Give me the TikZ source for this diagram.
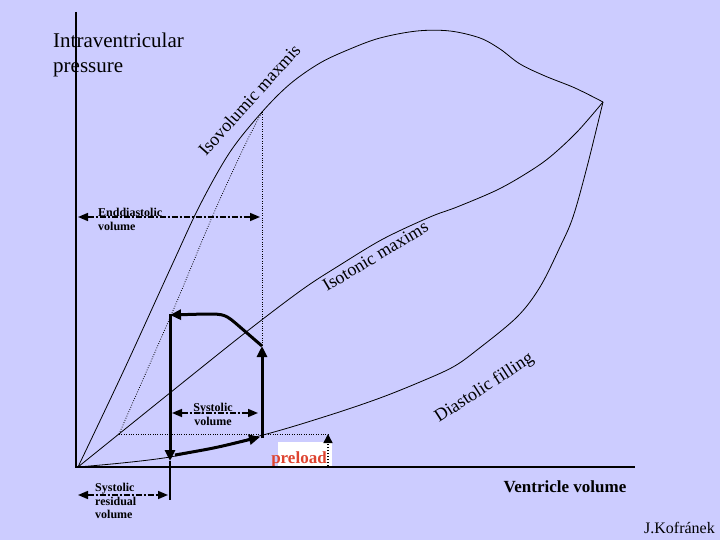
\documentclass[tikz,border=0pt]{standalone}
\usepackage{fontspec}
\setmainfont{Liberation Serif}
\usetikzlibrary{arrows.meta}

\definecolor{panel}{RGB}{204,204,255}
\definecolor{preloadred}{RGB}{222,68,48}

\begin{document}
\begin{tikzpicture}[x=1pt, y=-1pt,
                axis/.style={line width=2.4pt},
                curve/.style={line width=0.8pt},
                guide/.style={line width=0.8pt, dash pattern=on 0.8pt off 1.6pt},
                pv/.style={line width=3pt, -{Triangle[length=11pt, width=10pt]}},
                dim/.style={line width=1.6pt, dash pattern=on 6pt off 2pt on 2pt off 2pt, {Triangle[length=10pt, width=8pt]}-{Triangle[length=10pt, width=8pt]}},
                dimtext/.style={font=\fontsize{12}{13.5}\selectfont\bfseries, inner sep=0pt, align=left},
                curvetext/.style={font=\fontsize{18}{20}\selectfont, inner sep=0pt, anchor=base west}
            ]
                \fill[panel] (0,0) rectangle (720,540);
                \useasboundingbox (0,0) rectangle (720,540);

                \coordinate (O) at (78,467);
                \coordinate (corner) at (76,467);
                \coordinate (ytop) at (76,12);
                \coordinate (xend) at (635,467);
                \coordinate (peak) at (603,102);
                \coordinate (iso) at (262,112);
                \coordinate (v0) at (119,434);
                \coordinate (v0end) at (328,434);
                \coordinate (isofoot) at (262,346);

                % pressure-volume curves
                \draw[curve] plot[smooth, tension=0.55] coordinates {(78,467) (124,370) (172,265) (200,205) (230,152) (262,112) (290,84) (320,63) (350,49) (380,38) (417,31) (450,31) (480,38) (500,49) (520,64) (545,76) (575,88) (603,102)};
                \draw[curve] plot[smooth, tension=0.55] coordinates {(78,467) (186,380) (250,329) (303,289) (340,265) (383,239) (430,217) (457,207) (497,190) (527,173) (550,157) (577,132) (603,102)};
                \draw[curve] plot[smooth, tension=0.55] coordinates {(78,467) (170,457) (263,435) (330,415) (380,398) (420,382) (453,367) (477,350) (517,317) (540,287) (560,247) (573,217) (587,167) (603,102)};
                \draw[guide] plot[smooth] coordinates {(119,434) (172,313) (213,215) (245,145) (262,112)};
                \draw[guide] (iso) -- (isofoot);
                \draw[guide] (v0) -- (v0end);

                % loop
                \coordinate (esvtop) at (170,315);
                \coordinate (esvstart) at (170,313.5);
                \coordinate (esvbot) at (170,461);
                \coordinate (fillstart) at (175,455);
                \coordinate (edvbot) at (260,437);
                \coordinate (edvstart) at (262,438);
                \coordinate (edvtop) at (262,346);
                \draw[pv] (fillstart) .. controls (215,448) .. (edvbot);
                \draw[pv] (edvstart) -- (edvtop);
                \draw[pv] (edvtop) -- (240,327) .. controls (225,314) .. (205,314) -- (esvtop);
                \draw[pv] (esvstart) -- (esvbot);
                \coordinate (rvfoot) at (170,500);
                \draw[line width=1.2pt] (esvbot) -- (rvfoot);

                % volume spans
                \coordinate (edvL) at (78,217);
                \coordinate (edvR) at (260,217);
                \coordinate (svL) at (172,413);
                \coordinate (svR) at (258,413);
                \coordinate (rvL) at (78,495);
                \coordinate (rvR) at (168,495);
                \draw[dim] (edvL) -- (edvR);
                \draw[dim] (svL) -- (svR);
                \draw[dim] (rvL) -- (rvR);
                \node (edvtext) [dimtext, anchor=north west] at (98,208) {Enddiastolic\\volume};
                \node (svtext) [dimtext, align=center, anchor=north] at (213,403) {Systolic\\volume};
                \node (rvtext) [dimtext, anchor=north west] at (95,483) {Systolic\\residual\\volume};

                % preload
                \node (preloadbox) [fill=white, minimum width=54pt, minimum height=24pt, inner sep=0pt] at (305,454) {};
                \node (preload) [text=preloadred, font=\fontsize{17}{17}\selectfont\bfseries, inner sep=0pt, anchor=base] at (299,463) {preload};
                \coordinate (plfoot) at (328,466);
                \draw[line width=1.5pt, dash pattern=on 1.5pt off 1.5pt, -{Triangle[length=9pt, width=9pt]}] (plfoot) -- (v0end);

                \node (isovol) [curvetext, rotate=48] at (206,157) {Isovolumic maxmis};
                \node (isoton) [curvetext, rotate=31] at (327,292) {Isotonic maxims};
                \node (diafill) [curvetext, rotate=33] at (439,423) {Diastolic filling};

                \node (ylabel) [font=\fontsize{21}{25}\selectfont, align=left, inner sep=0pt, anchor=north west] at (53,33) {Intraventricular\\pressure};
                \node (xlabel) [font=\fontsize{17}{17}\selectfont\bfseries, inner sep=0pt, anchor=base] at (565,492) {Ventricle volume};
                \node (author) [font=\fontsize{16}{16}\selectfont, inner sep=0pt, anchor=base east] at (715,533) {J.Kofránek};

                \draw[axis] (ytop) -- (corner) -- (xend);
            \end{tikzpicture}
\end{document}
